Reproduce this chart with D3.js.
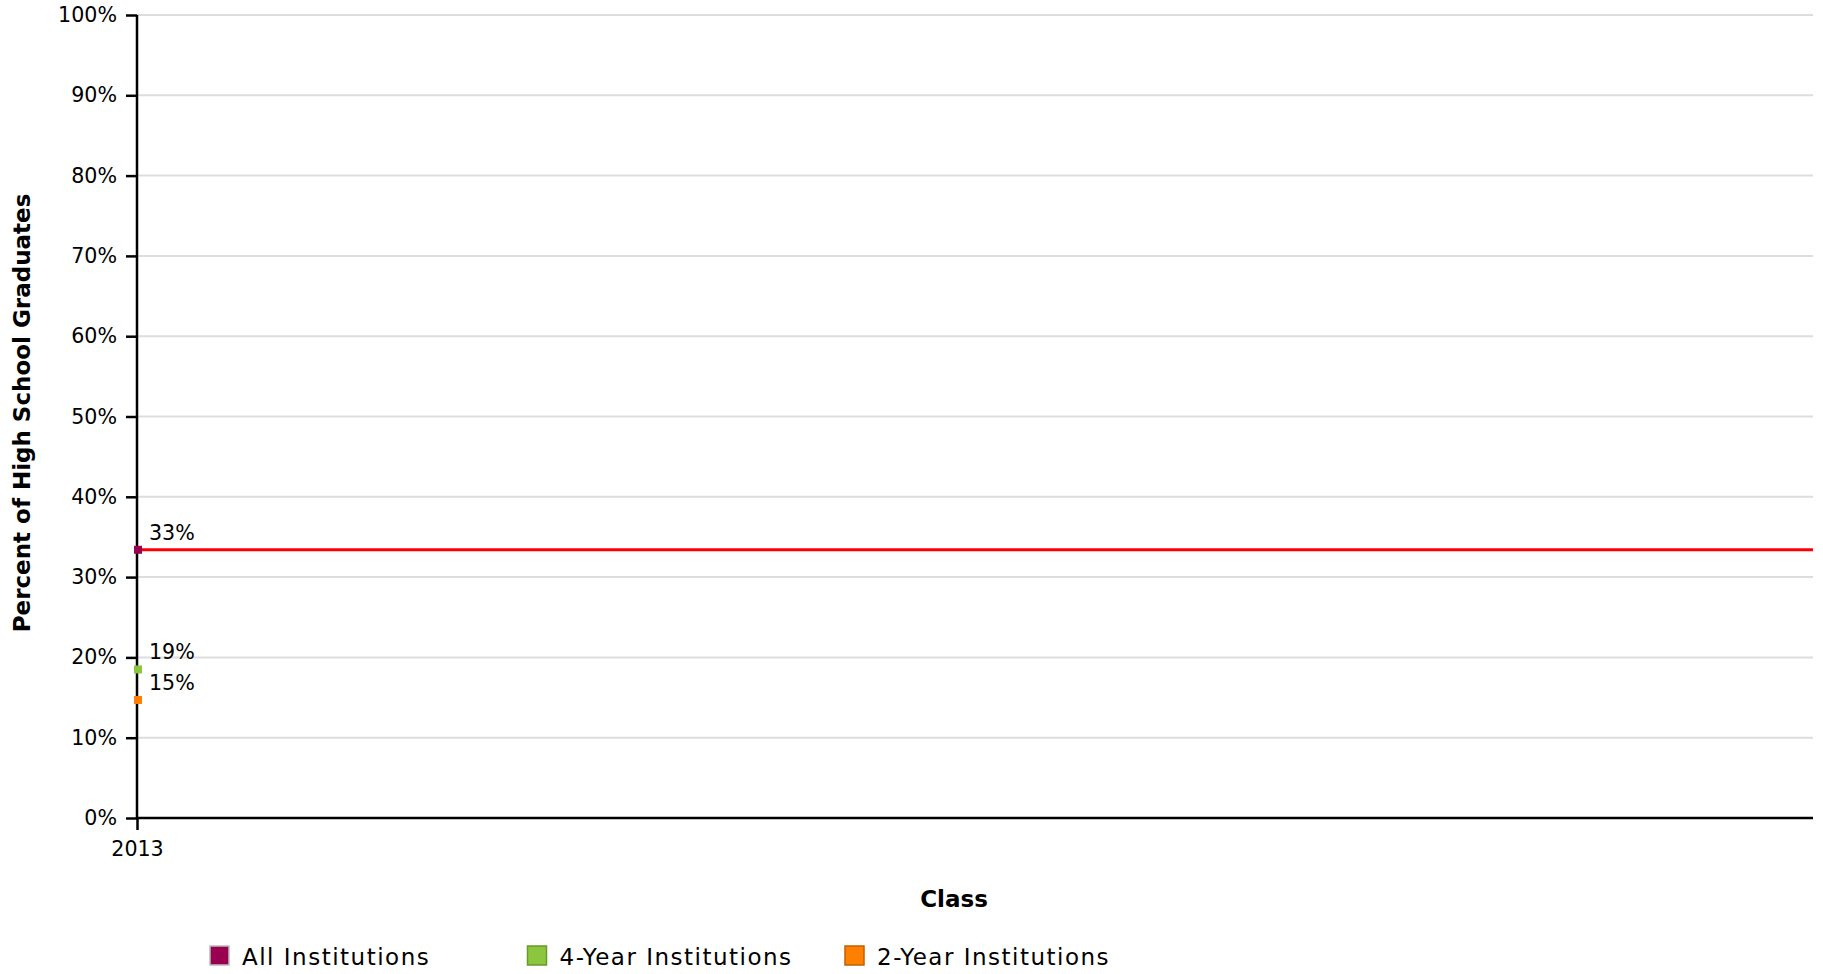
<!DOCTYPE html>
<html>
<head>
<meta charset="utf-8">
<script src="https://cdn.jsdelivr.net/npm/d3@7"></script>
<style>
  body { margin: 0; background: #fff; }
  svg { font-family: "DejaVu Sans", sans-serif; display: block; }
</style>
</head>
<body>
<div id="svg-container"></div>
<script>
// data
const classes = ["2013"];
const seriesNames = ["All Institutions", "4-Year Institutions", "2-Year Institutions"];
const allInst = [33.4];
const fourYear = [18.5];
const twoYear = [14.7];
const pointLabels = ["33%", "19%", "15%"];
const yTicks = [0, 10, 20, 30, 40, 50, 60, 70, 80, 90, 100];
const fillColors = ["#990050", "#8cc63f", "#ff8000"];
const strokeColors = ["#bbbbbb", "#6a9a2a", "#c06000"];

const width = 1823, height = 974;
const margin = { top: 15, right: 10, bottom: 156, left: 137 };

const svg = d3.select("#svg-container").append("svg")
  .attr("width", width).attr("height", height);

// scales
const xScale = d3.scalePoint()
  .domain(classes)
  .range([margin.left, width - margin.right])
  .align(0);

const yScale = d3.scaleLinear()
  .domain([0, 100])
  .range([height - margin.bottom, margin.top]);

// grid
svg.append("g")
  .selectAll("line")
  .data(yTicks.filter(d => d > 0))
  .enter()
  .append("line")
  .attr("x1", margin.left)
  .attr("x2", width - margin.right)
  .attr("y1", d => yScale(d))
  .attr("y2", d => yScale(d))
  .attr("stroke", "#dddddd")
  .attr("stroke-width", 2);

// axes
const yAxis = svg.append("g")
  .attr("transform", `translate(${margin.left},0)`)
  .call(d3.axisLeft(yScale).tickValues(yTicks).tickFormat(d => d + "%").tickSize(11).tickPadding(9));

const xAxis = svg.append("g")
  .attr("transform", `translate(0,${height - margin.bottom})`)
  .call(d3.axisBottom(xScale).tickSize(12).tickPadding(11));

[yAxis, xAxis].forEach(g => {
  g.select(".domain").attr("stroke", "#000").attr("stroke-width", 2.5);
  g.selectAll(".tick line").attr("stroke", "#000").attr("stroke-width", 2.5);
  g.selectAll(".tick text").attr("fill", "#000").style("font-size", "20.6px").style("font-family", "DejaVu Sans");
});
yAxis.select(".domain").attr("d", `M0,${margin.top}V${height - margin.bottom}`);
xAxis.select(".domain").attr("d", `M${margin.left},0H${width - margin.right}`);

// reference line for All Institutions
svg.append("line")
  .attr("x1", xScale(classes[0]))
  .attr("x2", width - margin.right)
  .attr("y1", yScale(allInst[0]))
  .attr("y2", yScale(allInst[0]))
  .attr("stroke", "#ff0000")
  .attr("stroke-width", 3);

// points
const series = [allInst, fourYear, twoYear];
series.forEach((vals, s) => {
  svg.append("g")
    .selectAll("rect")
    .data(vals)
    .enter()
    .append("rect")
    .attr("x", (d, i) => xScale(classes[i]) - 3)
    .attr("y", d => yScale(d) - 4)
    .attr("width", 8)
    .attr("height", 8)
    .attr("fill", fillColors[s]);

  svg.append("g")
    .selectAll("text")
    .data(vals)
    .enter()
    .append("text")
    .attr("x", (d, i) => xScale(classes[i]) + 12)
    .attr("y", d => yScale(d) - 10)
    .style("font-size", "20.6px")
    .attr("fill", "#000")
    .text(pointLabels[s]);
});

// axis titles
svg.append("text")
  .attr("x", 954)
  .attr("y", 907)
  .attr("text-anchor", "middle")
  .style("font-size", "23px")
  .style("font-weight", "bold")
  .text("Class");

svg.append("text")
  .attr("transform", "translate(30,413) rotate(-90)")
  .attr("text-anchor", "middle")
  .style("font-size", "23px")
  .style("font-weight", "bold")
  .text("Percent of High School Graduates");

// legend
const legend = svg.append("g")
  .selectAll("g")
  .data(seriesNames)
  .enter()
  .append("g")
  .attr("transform", (d, i) => `translate(${210 + i * 317.5},946)`);

legend.append("rect")
  .attr("width", 19)
  .attr("height", 19)
  .attr("fill", (d, i) => fillColors[i])
  .attr("stroke", (d, i) => strokeColors[i])
  .attr("stroke-width", 1.5);

legend.append("text")
  .attr("x", 32)
  .attr("y", 19)
  .style("font-size", "23px")
  .style("letter-spacing", "1.5px")
  .text(d => d);
</script>
</body>
</html>
